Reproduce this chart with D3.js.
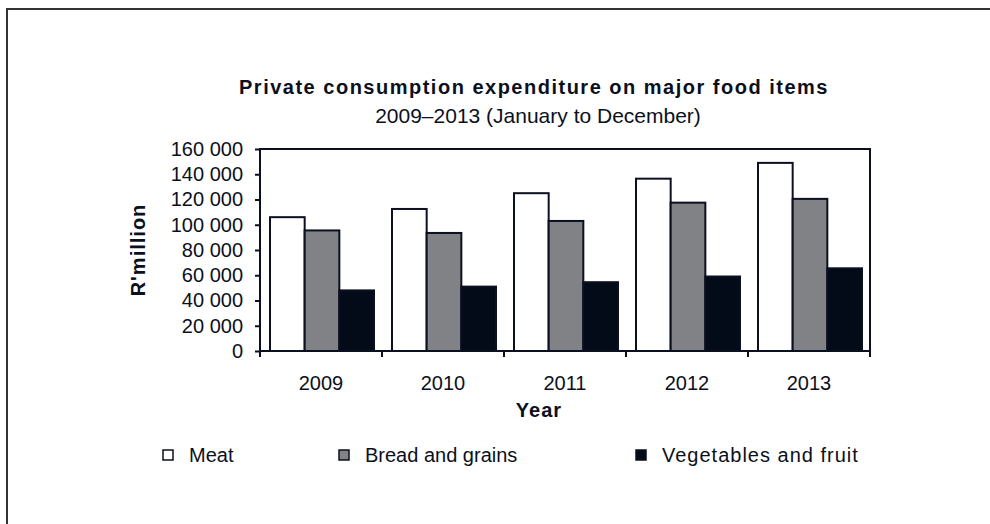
<!DOCTYPE html>
<html>
<head>
<meta charset="utf-8">
<script src="https://cdn.jsdelivr.net/npm/d3@7"></script>
<style>
  html, body { margin: 0; padding: 0; background: #fff; }
  svg { display: block; }
  text { font-family: "Liberation Sans", Arial, sans-serif; fill: #0b1020; }
</style>
</head>
<body>
<svg id="chart" width="990" height="524"></svg>
<script>
const years = ["2009", "2010", "2011", "2012", "2013"];
const seriesNames = ["Meat", "Bread and grains", "Vegetables and fruit"];
const meat = [106000, 112500, 125000, 136500, 149000];
const bread = [95500, 93500, 103000, 117500, 120500];
const vegetables = [48000, 51000, 54500, 59000, 65500];
const yTicks = [0, 20000, 40000, 60000, 80000, 100000, 120000, 140000, 160000];
const seriesColors = ["#ffffff", "#808285", "#030a18"];

const seriesValues = [meat, bread, vegetables];

const svg = d3.select("#chart");
const ink = "#0b1020";

// outer frame (top and left edges)
svg.append("path")
  .attr("d", "M7,524 L7,9 L990,9")
  .attr("fill", "none").attr("stroke", "#333").attr("stroke-width", 2);

const plot = { left: 260, right: 870, top: 149, bottom: 351 };

const x = d3.scaleBand().domain(years).range([plot.left, plot.right]).padding(0);
const xs = d3.scaleBand().domain(seriesNames).range([10, x.bandwidth() - 8]).padding(0);
const y = d3.scaleLinear().domain([0, 160000]).range([plot.bottom, plot.top]);

// title
svg.append("text").attr("x", 534).attr("y", 94).attr("text-anchor", "middle")
  .style("font-size", "20px").style("font-weight", "bold").style("letter-spacing", "1.5px")
  .text("Private consumption expenditure on major food items");
svg.append("text").attr("x", 538).attr("y", 123).attr("text-anchor", "middle")
  .style("font-size", "21px")
  .text("2009\u20132013 (January to December)");

// bars
years.forEach((yr, i) => {
  seriesNames.forEach((s, j) => {
    const v = seriesValues[j][i];
    svg.append("rect")
      .attr("x", x(yr) + xs(s))
      .attr("y", y(v))
      .attr("width", xs.bandwidth())
      .attr("height", y(0) - y(v))
      .attr("fill", seriesColors[j])
      .attr("stroke", ink)
      .attr("stroke-width", 2);
  });
});

// plot frame
svg.append("rect")
  .attr("x", plot.left).attr("y", plot.top)
  .attr("width", plot.right - plot.left).attr("height", plot.bottom - plot.top)
  .attr("fill", "none").attr("stroke", ink).attr("stroke-width", 2);

// y axis
const yAxis = d3.axisLeft(y)
  .tickValues(yTicks)
  .tickSize(5)
  .tickPadding(12)
  .tickFormat(d => d3.format(",")(d).replace(/,/g, " "));
const gy = svg.append("g").attr("transform", `translate(${plot.left},0)`).call(yAxis);
gy.select(".domain").remove();
gy.selectAll(".tick line").attr("stroke", ink).attr("stroke-width", 2);
gy.selectAll(".tick text").style("font-size", "20px").attr("fill", ink)
  .style("font-family", "'Liberation Sans', Arial, sans-serif");

// x axis ticks at category boundaries
const boundaries = years.map(yr => x(yr)).concat([x.range()[1]]);
svg.append("g").selectAll("line").data(boundaries).join("line")
  .attr("x1", d => d).attr("x2", d => d)
  .attr("y1", plot.bottom).attr("y2", plot.bottom + 6)
  .attr("stroke", ink).attr("stroke-width", 2);
svg.append("g").selectAll("text").data(years).join("text")
  .attr("x", d => x(d) + x.bandwidth() / 2)
  .attr("y", 390)
  .attr("text-anchor", "middle")
  .style("font-size", "20px")
  .text(d => d);

// axis titles
svg.append("text").attr("x", 539).attr("y", 417).attr("text-anchor", "middle")
  .style("font-size", "20px").style("font-weight", "bold").style("letter-spacing", "1px")
  .text("Year");
svg.append("text")
  .attr("transform", "translate(145,250) rotate(-90)")
  .attr("text-anchor", "middle")
  .style("font-size", "20px").style("font-weight", "bold").style("letter-spacing", "1px")
  .text("R'million");

// legend
const legendX = [163, 339, 636];
const legendSpacing = ["0px", "0px", "1px"];
const lg = svg.append("g");
seriesNames.forEach((s, j) => {
  lg.append("rect")
    .attr("x", legendX[j]).attr("y", 450)
    .attr("width", 10).attr("height", 10)
    .attr("fill", seriesColors[j]).attr("stroke", ink).attr("stroke-width", 1.5);
  lg.append("text")
    .attr("x", legendX[j] + 26).attr("y", 462)
    .style("font-size", "20px")
    .style("letter-spacing", legendSpacing[j])
    .text(s);
});
</script>
</body>
</html>
